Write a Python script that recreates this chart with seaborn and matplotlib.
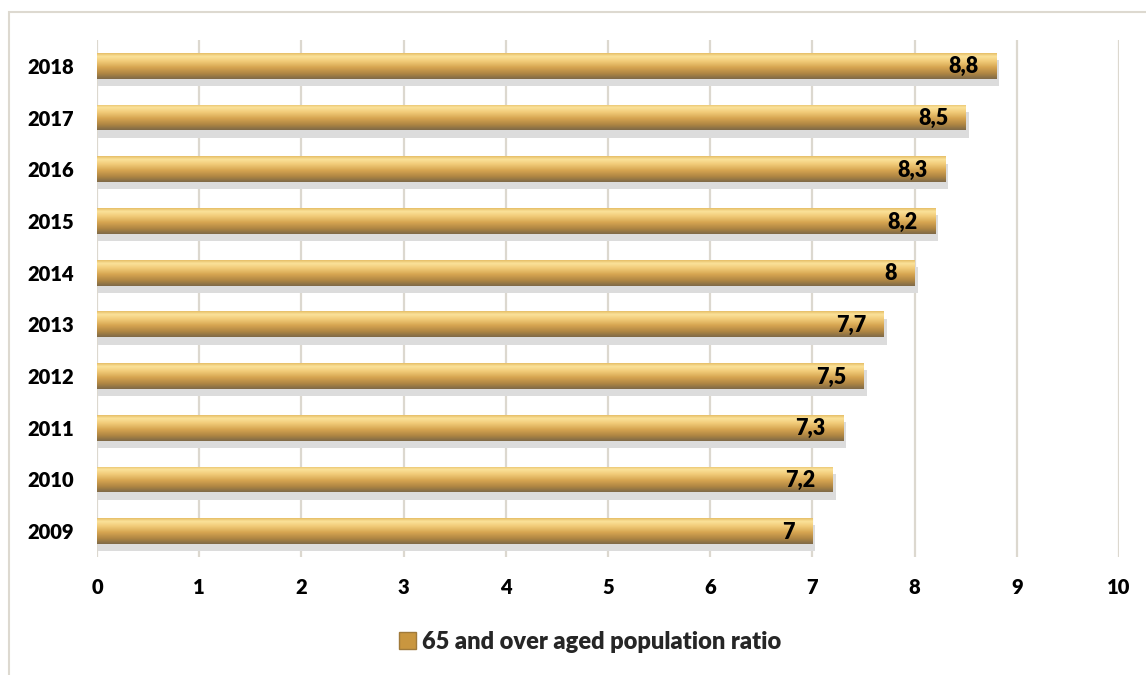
import numpy as np
import pandas as pd
import matplotlib
matplotlib.use("Agg")
import matplotlib.pyplot as plt
import seaborn as sns
from matplotlib.colors import LinearSegmentedColormap
from matplotlib.patches import Rectangle, Patch

years = ["2009", "2010", "2011", "2012", "2013", "2014", "2015", "2016", "2017", "2018"]
values = [7.0, 7.2, 7.3, 7.5, 7.7, 8.0, 8.2, 8.3, 8.5, 8.8]
series_name = "65 and over aged population ratio"
xticks = [0, 1, 2, 3, 4, 5, 6, 7, 8, 9, 10]

sns.set_theme(style="white")
plt.rcParams["font.family"] = ["Lato", "DejaVu Sans"]
plt.rcParams["font.weight"] = "bold"

df = pd.DataFrame({"year": years, "value": values})

fig = plt.figure(figsize=(11.46, 6.75), dpi=100)
W, H = 1146, 675
ax = fig.add_axes([97 / W, 1 - 557 / H, (1119 - 97) / W, (557 - 40) / H])

sns.barplot(data=df, x="value", y="year", order=years[::-1], orient="h",
            width=0.5, color="#D4A553", ax=ax, zorder=3)

grad = LinearSegmentedColormap.from_list(
    "gold",
    [(0.0, "#E6BE68"), (0.12, "#FBE29A"), (0.3, "#F2CC7A"),
     (0.55, "#D6A551"), (0.8, "#AE8543"), (1.0, "#7F6A48")])
gimg = np.linspace(0, 1, 64).reshape(-1, 1)

for p in list(ax.patches):
    x0, y0 = p.get_x(), p.get_y()
    w, h = p.get_width(), p.get_height()
    # soft shadow below the bar
    sh = Rectangle((x0 + 0.01, y0 + 0.14), w + 0.02, h, facecolor="#DCDCDC",
                   edgecolor="none", zorder=2)
    ax.add_patch(sh)
    p.set_edgecolor("none")
    im = ax.imshow(gimg, cmap=grad, aspect="auto", origin="upper",
                   extent=[x0, x0 + w, y0 + h, y0], zorder=4,
                   interpolation="bilinear")
    im.set_clip_path(p)
    lbl = f"{w:g}".replace(".", ",")
    ax.text(x0 + w - 0.17, y0 + h / 2 + 0.02, lbl, ha="right", va="center",
            fontsize=15.5, fontweight="heavy", color="black", zorder=6)

ax.set_xlim(0, 10)
ax.set_ylim(9.5, -0.5)
ax.set_xticks(xticks)
ax.set_xticklabels([str(t) for t in xticks])
ax.grid(axis="x", color="#DCD8CF", lw=1.6, zorder=0)
ax.grid(axis="y", visible=False)
for s in ax.spines.values():
    s.set_visible(False)
ax.set_xlabel("")
ax.set_ylabel("")
ax.tick_params(axis="both", length=0, labelsize=14.5)
ax.tick_params(axis="y", pad=16.5)
ax.tick_params(axis="x", pad=15)
for t in ax.get_xticklabels() + ax.get_yticklabels():
    t.set_fontweight("heavy")
    t.set_color("black")

handle = Patch(facecolor="#C9963F", edgecolor="#A07A3A", label=series_name)
leg = fig.legend(handles=[handle], loc="center", bbox_to_anchor=(590 / W, 1 - 642 / H),
                 frameon=False, prop={"weight": "heavy", "size": 17},
                 handlelength=0.75, handleheight=0.75, handletextpad=0.25)

border = Rectangle((8.5 / W, -0.5), 2.0, (1 - 11.5 / H) + 0.5, transform=fig.transFigure,
                   facecolor="none", edgecolor="#DDD9D0", lw=1.5, zorder=0)
fig.patches.append(border)

fig.savefig("out.png", dpi=100)
